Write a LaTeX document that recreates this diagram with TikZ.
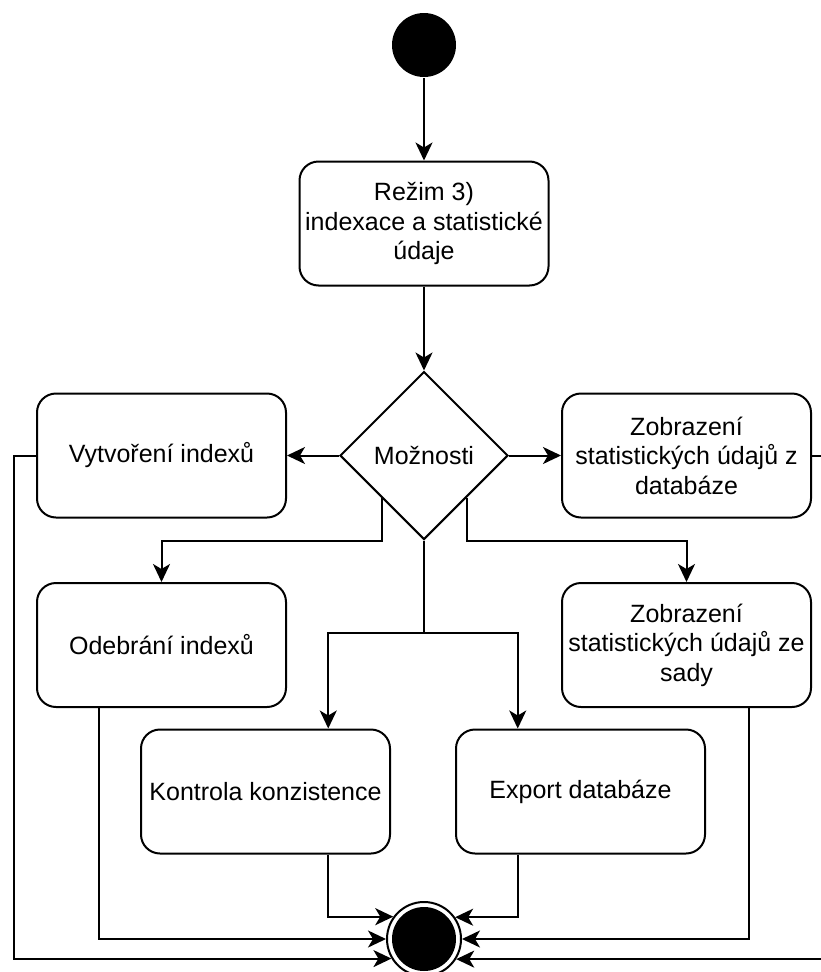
\documentclass[tikz,border=0pt]{standalone}
\usepackage{fontspec}
\setmainfont{Liberation Sans}
\usetikzlibrary{arrows.meta,shapes.geometric,calc}
\begin{document}
\begin{tikzpicture}[x=1pt,y=-1pt,
  line width=2pt,
  flow/.style={-{Stealth[length=18pt,width=17pt,inset=5pt]}},
  act/.style={draw, rounded corners=19pt, minimum width=249pt, minimum height=124pt,
    inner sep=0pt, align=center, font=\fontsize{25}{29.5}\selectfont},
  choice/.style={draw, diamond, aspect=1, minimum width=168pt, minimum height=168pt,
    inner sep=0pt, font=\fontsize{25}{29.5}\selectfont},
  initial/.style={circle, fill, minimum size=64pt, inner sep=0pt},
  final/.style={circle, draw, minimum size=74pt, inner sep=0pt}
]
\useasboundingbox (0,0) rectangle (821,972);
\clip (0,0) rectangle (821,972);

% nodes
\node[initial] (start) at (424,45) {};
\node[act] (rezim) at (424,223.5) {Režim 3)\\indexace a statistické\\údaje};
\node[choice] (moz) at (424,455.5) {Možnosti};
\node[act] (vytv) at (161.5,455.5) {Vytvoření indexů};
\node[act] (zdb) at (686.5,455.5) {Zobrazení\\statistických údajů z\\databáze};
\node[act] (odeb) at (161.5,645) {Odebrání indexů};
\node[act] (zsady) at (686.5,645) {Zobrazení\\statistických údajů ze\\sady};
\node[act] (kontr) at (265.5,791.5) {Kontrola konzistence};
\node[act] (exp) at (580.5,791.5) {Export databáze};
\node[final] (end) at (424,939) {};
\fill (end.center) circle (32);

% helper points
\coordinate (dl) at ($(moz.west)!0.5!(moz.south)$);
\coordinate (dr) at ($(moz.east)!0.5!(moz.south)$);
\coordinate (split) at ($(moz.south)+(0,92)$);
\coordinate (kin) at ($(kontr.north)!0.5!(kontr.north east)$);
\coordinate (kout) at ($(kontr.south)!0.5!(kontr.south east)$);
\coordinate (ein) at ($(exp.north)!0.5!(exp.north west)$);
\coordinate (eout) at ($(exp.south)!0.5!(exp.south west)$);
\coordinate (oout) at ($(odeb.south)!0.5!(odeb.south west)$);
\coordinate (sout) at ($(zsady.south)!0.5!(zsady.south east)$);
\coordinate (vl) at ($(vytv.west)+(-22,0)$);
\coordinate (zr) at ($(zdb.east)+(20,0)$);

% connectors
\draw[flow] (start) -- (rezim);
\draw[flow] (rezim) -- (moz.north);
\draw[flow] (moz.west) -- (vytv.east);
\draw[flow] (moz.east) -- (zdb.west);
\draw[flow] (dl) -- (dl |- moz.south) -| (odeb.north);
\draw[flow] (dr) -- (dr |- moz.south) -| (zsady.north);
\draw (moz.south) -- (split);
\draw[flow] (split) -| (kin);
\draw[flow] (split) -| (ein);

% into the final node
\draw[flow] (kout) |- (end.144.6);
\draw[flow] (eout) |- (end.35.4);
\draw[flow] (oout) |- (end.west);
\draw[flow] (sout) |- (end.east);
\draw[flow] (vytv.west) -- (vl) |- (end.211.8);
\draw[flow] (zdb.east) -- (zr) |- (end.328.2);
\end{tikzpicture}
\end{document}
